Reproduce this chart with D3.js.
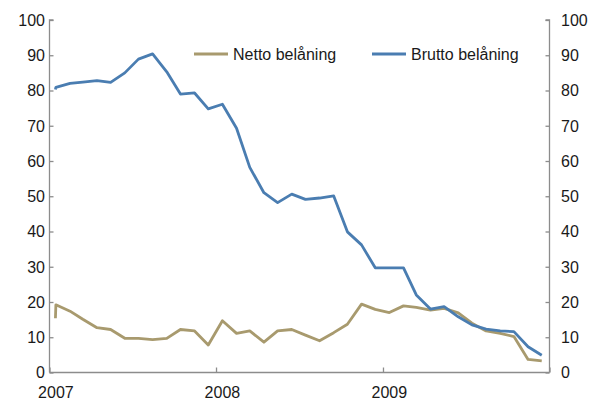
<!DOCTYPE html>
<html>
<head>
<meta charset="utf-8">
<script src="https://cdn.jsdelivr.net/npm/d3@7"></script>
<style>
  html, body { margin: 0; padding: 0; background: #fff; }
  svg { display: block; font-family: "Liberation Sans", Arial, sans-serif; }
</style>
</head>
<body>
<svg id="chart" width="590" height="403"></svg>
<script>
// Monthly observations, Jan 2007 – Dec 2009 (the series opens with two readings in January)
const dates = [
  "2007-01-14", "2007-01-15", "2007-02-15", "2007-03-15", "2007-04-15", "2007-05-15", "2007-06-15",
  "2007-07-15", "2007-08-15", "2007-09-15", "2007-10-15", "2007-11-15", "2007-12-15",
  "2008-01-15", "2008-02-15", "2008-03-15", "2008-04-15", "2008-05-15", "2008-06-15",
  "2008-07-15", "2008-08-15", "2008-09-15", "2008-10-15", "2008-11-15", "2008-12-15",
  "2009-01-15", "2009-02-15", "2009-03-15", "2009-04-15", "2009-05-15", "2009-06-15",
  "2009-07-15", "2009-08-15", "2009-09-15", "2009-10-15", "2009-11-15", "2009-12-15"
];
const netto = [
  15.4, 19.2, 17.4, 15.1, 12.7, 12.2, 9.7,
  9.7, 9.3, 9.7, 12.2, 11.8, 7.8,
  14.7, 11.1, 11.8, 8.6, 11.8, 12.2,
  10.6, 9.0, 11.3, 13.7, 19.4, 17.9,
  17.0, 18.9, 18.5, 17.7, 18.2, 16.9,
  14.0, 11.8, 11.1, 10.2, 3.7, 3.3
];
const brutto = [
  80.3, 80.9, 82.0, 82.4, 82.8, 82.3, 85.0,
  88.9, 90.4, 85.3, 79.0, 79.3, 74.8,
  76.1, 69.3, 58.2, 51.0, 48.2, 50.6,
  49.1, 49.5, 50.1, 39.9, 36.2, 29.7,
  29.7, 29.7, 22.0, 18.0, 18.7, 15.8,
  13.5, 12.3, 11.8, 11.6, 7.3, 4.9
];
const yTicks = [0, 10, 20, 30, 40, 50, 60, 70, 80, 90, 100];
const yearTicks = ["2007-01-01", "2008-01-01", "2009-01-01", "2010-01-01"];
const yearLabels = ["2007", "2008", "2009"];
const seriesNames = ["Netto belåning", "Brutto belåning"];
const seriesColors = ["#a89a6e", "#4a7db1"];

const parse = d3.utcParse("%Y-%m-%d");
const svg = d3.select("#chart");
const axisColor = "#8c8c8c";
const textColor = "#1a1a1a";

const x = d3.scaleUtc()
  .domain([parse("2007-01-01"), parse("2010-01-01")])
  .range([49.5, 549.5]);
const y = d3.scaleLinear().domain([0, 100]).range([372.5, 20]);

// Axes
const leftAxis = svg.append("g")
  .attr("transform", `translate(${x.range()[0]},0)`)
  .call(d3.axisRight(y).tickValues(yTicks).tickSize(4).tickFormat(""));
const rightAxis = svg.append("g")
  .attr("transform", `translate(${x.range()[1]},0)`)
  .call(d3.axisLeft(y).tickValues(yTicks).tickSize(4).tickFormat(""));
const bottomAxis = svg.append("g")
  .attr("transform", `translate(0,${y(0)})`)
  .call(d3.axisTop(x).tickValues(yearTicks.map(parse)).tickSize(5).tickFormat(""));

[leftAxis, rightAxis, bottomAxis].forEach(g => {
  g.selectAll(".domain").attr("stroke", axisColor).attr("stroke-width", 1.3)
    .attr("d", function () { return d3.select(this).attr("d").replace(/^M[^V H]*?([VH])/, m => m); });
  g.selectAll(".tick line").attr("stroke", axisColor).attr("stroke-width", 1.3);
});
// remove the outer end-caps drawn by d3 on the domain path
leftAxis.select(".domain").attr("d", `M0,${y(0)}V${y(100)}h4`);
rightAxis.select(".domain").attr("d", `M0,${y(0)}V${y(100)}h-4`);
bottomAxis.select(".domain").attr("d", `M${x.range()[0]},0H${x.range()[1]}`);

// Tick labels
svg.append("g").selectAll("text").data(yTicks).join("text")
  .attr("x", 45).attr("y", d => y(d)).attr("dy", "0.36em")
  .attr("text-anchor", "end").attr("font-size", 16).attr("fill", textColor)
  .text(d => d);
svg.append("g").selectAll("text").data(yTicks).join("text")
  .attr("x", 561).attr("y", d => y(d)).attr("dy", "0.36em")
  .attr("text-anchor", "start").attr("font-size", 16).attr("fill", textColor)
  .text(d => d);
// Year labels sit under the mid-January observation
svg.append("g").selectAll("text").data(yearLabels).join("text")
  .attr("x", d => x(parse(d + "-01-15")))
  .attr("y", 398)
  .attr("text-anchor", "middle").attr("font-size", 16).attr("fill", textColor)
  .text(d => d);

// Lines
const series = [netto, brutto];
const line = d3.line()
  .x((d, i) => x(parse(dates[i])))
  .y(d => y(d));
series.forEach((vals, k) => {
  svg.append("path")
    .datum(vals)
    .attr("fill", "none")
    .attr("stroke", seriesColors[k])
    .attr("stroke-width", 2.8)
    .attr("stroke-linejoin", "round")
    .attr("d", line);
});

// Legend
const legendX = [194, 372];
const legend = svg.append("g");
seriesNames.forEach((name, k) => {
  legend.append("line")
    .attr("x1", legendX[k]).attr("x2", legendX[k] + 34)
    .attr("y1", 54).attr("y2", 54)
    .attr("stroke", seriesColors[k]).attr("stroke-width", 2.8);
  legend.append("text")
    .attr("x", legendX[k] + 39).attr("y", 54).attr("dy", "0.36em")
    .attr("font-size", 16).attr("fill", textColor)
    .text(name);
});
</script>
</body>
</html>
